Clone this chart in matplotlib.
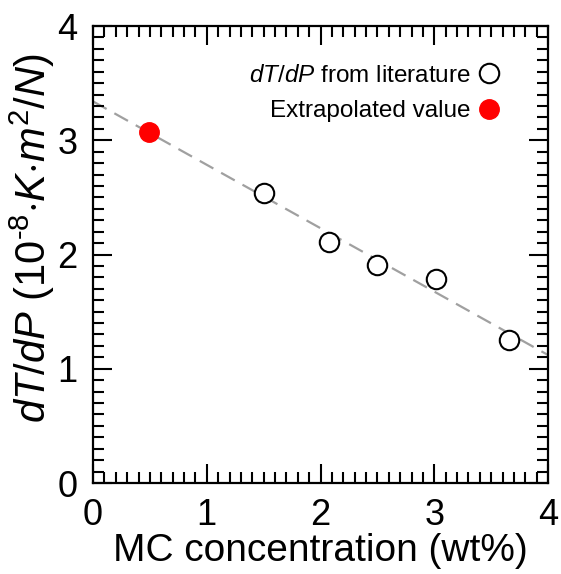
import matplotlib
matplotlib.use("Agg")
import matplotlib.pyplot as plt
from matplotlib.ticker import MultipleLocator

plt.rcParams['font.family'] = ['Liberation Sans', 'DejaVu Sans']
plt.rcParams['mathtext.fontset'] = 'custom'
plt.rcParams['mathtext.rm'] = 'Liberation Sans'
plt.rcParams['mathtext.it'] = 'Liberation Sans:italic'

# Data
lit_conc = [1.5, 2.07, 2.5, 3.015, 3.66]
lit_dtdp = [2.54, 2.11, 1.91, 1.785, 1.255]
extrap_conc = [0.49]
extrap_dtdp = [3.07]

# Linear fit shown as dashed line
fit_x = [0.0, 4.0]
fit_intercept = 3.34
fit_slope = -0.555
fit_y = [fit_intercept + fit_slope * x for x in fit_x]

fig = plt.figure(figsize=(5.61, 5.74), dpi=100)
ax = fig.add_axes([0.1658, 0.1585, 0.8112, 0.7962])

ax.plot(fit_x, fit_y, linestyle=(0, (7, 4)), color='#a0a0a0', lw=1.6, zorder=1)
ax.plot(lit_conc, lit_dtdp, 'o', ms=14, mfc='white', mec='black', mew=1.5,
        label=r'$dT/dP$ from literature', zorder=3)
ax.plot(extrap_conc, extrap_dtdp, 'o', ms=14, mfc='red', mec='red', mew=1.0,
        label='Extrapolated value', zorder=3)

ax.set_xlim(0, 4)
ax.set_ylim(0, 4)
ax.xaxis.set_major_locator(MultipleLocator(1))
ax.xaxis.set_minor_locator(MultipleLocator(0.1))
ax.yaxis.set_major_locator(MultipleLocator(1))
ax.yaxis.set_minor_locator(MultipleLocator(0.1))
ax.tick_params(which='both', direction='in', top=True, right=True, width=1.5)
ax.tick_params(which='major', length=14, labelsize=26)
ax.tick_params(axis='x', which='major', pad=11)
ax.tick_params(axis='y', which='major', pad=11)
ax.tick_params(which='minor', length=8)
for s in ax.spines.values():
    s.set_linewidth(1.6)

ax.set_xlabel('MC concentration (wt%)', fontsize=28, labelpad=0)
ax.set_ylabel(r'$dT/dP\ \mathrm{(10^{\text{-}8}}{\cdot}K{\cdot}m^{2}/N\mathrm{)}$',
              fontsize=30, labelpad=0)
ax.yaxis.set_label_coords(-0.08, 0.535)

ax.legend(loc='upper right', markerfirst=False, frameon=False, fontsize=17.5,
          handlelength=1.2, handletextpad=0.15, borderaxespad=0.6,
          labelspacing=0.55, bbox_to_anchor=(0.955, 0.968))

fig.savefig('out.png', dpi=100)
